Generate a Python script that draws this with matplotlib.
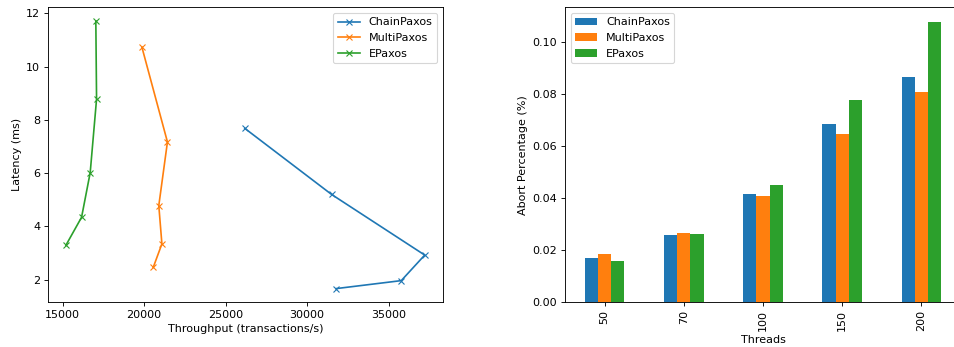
import matplotlib
matplotlib.use('Agg')
import matplotlib.pyplot as plt
import numpy as np

names = ['ChainPaxos', 'MultiPaxos', 'EPaxos']

# throughput (transactions/s) and latency (ms), per thread count 50..200
chain_tp = [31780, 35780, 37220, 31500, 26180]
chain_lat = [1.66, 1.96, 2.92, 5.20, 7.68]
multi_tp = [20560, 21090, 20900, 21430, 19860]
multi_lat = [2.46, 3.34, 4.78, 7.17, 10.74]
epaxos_tp = [15200, 16160, 16690, 17080, 17035]
epaxos_lat = [3.29, 4.34, 6.02, 8.78, 11.72]

threads = ['50', '70', '100', '150', '200']
chain_abort = [0.0169, 0.0259, 0.0414, 0.0686, 0.0864]
multi_abort = [0.0183, 0.0264, 0.0407, 0.0647, 0.0809]
epaxos_abort = [0.0159, 0.0260, 0.0451, 0.0778, 0.1079]

# the reference looks like a downscaled render, so draw at 80 dpi
fig = plt.figure(figsize=(954 / 80, 347 / 80), dpi=80)

ax1 = fig.add_axes([0.0503, 0.1297, 0.4137, 0.8487])
ax1.plot(chain_tp, chain_lat, 'x-', label=names[0])
ax1.plot(multi_tp, multi_lat, 'x-', label=names[1])
ax1.plot(epaxos_tp, epaxos_lat, 'x-', label=names[2])
ax1.set_xlabel('Throughput (transactions/s)')
ax1.set_ylabel('Latency (ms)')
ax1.legend(loc='upper right')

ax2 = fig.add_axes([0.5922, 0.1297, 0.4151, 0.8487])
x = np.arange(len(threads))
w = 0.5 / 3
ax2.bar(x - w, chain_abort, w, label=names[0])
ax2.bar(x, multi_abort, w, label=names[1])
ax2.bar(x + w, epaxos_abort, w, label=names[2])
ax2.set_xticks(x)
ax2.set_xticklabels(threads, rotation=90)
ax2.set_xlim(-0.5, len(threads) - 0.5)
ax2.set_xlabel('Threads')
ax2.set_ylabel('Abort Percentage (%)')
ax2.legend(loc='upper left')

plt.savefig('out.png', format='png', dpi=80)
